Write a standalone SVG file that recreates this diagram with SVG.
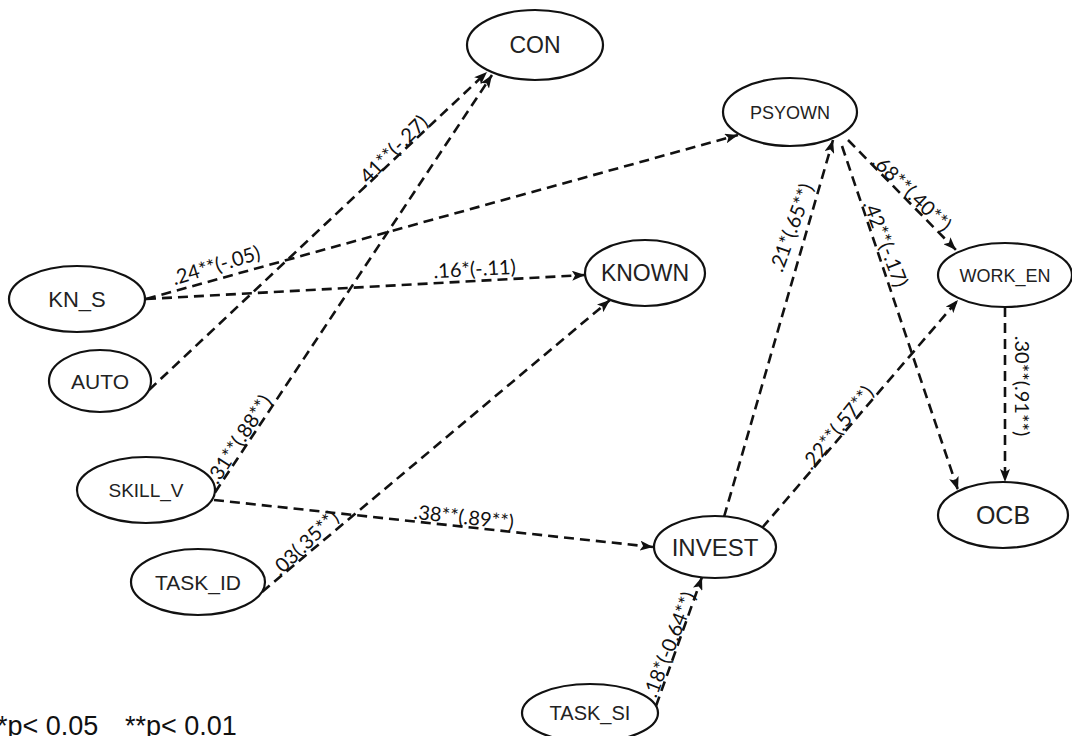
<svg xmlns="http://www.w3.org/2000/svg" width="1072" height="736" viewBox="0 0 1072 736">
<style>
.node ellipse{fill:#fff;stroke:#111;stroke-width:2.2}
.node text{font-family:"Liberation Sans",Arial,sans-serif;fill:#222;text-anchor:middle}
.edge{fill:none;stroke:#111;stroke-width:2.6;stroke-dasharray:10 6;marker-end:url(#arr)}
.lbl{font-family:Lato,"Liberation Sans",sans-serif;font-size:20px;fill:#111;text-anchor:middle}
.note{font-family:"Liberation Sans",Arial,sans-serif;font-size:27px;fill:#111}
</style>
<defs>
<marker id="arr" markerUnits="userSpaceOnUse" viewBox="0 0 14 10" markerWidth="14" markerHeight="10" refX="13" refY="5" orient="auto">
<path d="M0,0 L13,5 L0,10 L3,5 z" fill="#111"/>
</marker>
</defs>
<rect width="1072" height="736" fill="#fff"/>
<g id="connectors">
<line class="edge" x1="149" y1="390" x2="487" y2="72"/>
<line class="edge" x1="206" y1="506" x2="492" y2="75"/>
<line class="edge" x1="146" y1="299" x2="738" y2="135"/>
<line class="edge" x1="146" y1="299" x2="585" y2="275"/>
<line class="edge" x1="262" y1="592" x2="610" y2="300"/>
<line class="edge" x1="214" y1="500" x2="653" y2="547"/>
<line class="edge" x1="724" y1="517" x2="833" y2="140"/>
<line class="edge" x1="848" y1="140" x2="956" y2="250"/>
<line class="edge" x1="842" y1="146" x2="958" y2="490"/>
<line class="edge" x1="762" y1="528" x2="958" y2="300"/>
<line class="edge" x1="1005" y1="307" x2="1005" y2="482"/>
<line class="edge" x1="656" y1="706" x2="702" y2="577"/>
<text class="lbl" transform="translate(397,156) rotate(-45)">.41**(-.27)</text>
<text class="lbl" transform="translate(245,443) rotate(-57)">.31**(.88**)</text>
<text class="lbl" transform="translate(218,272) rotate(-17)">.24**(-.05)</text>
<text class="lbl" transform="translate(475,276) rotate(-3)">.16*(-.11)</text>
<text class="lbl" transform="translate(310,548) rotate(-44)">.03(.35**)</text>
<text class="lbl" transform="translate(463,524) rotate(6)">.38**(.89**)</text>
<text class="lbl" transform="translate(798,230) rotate(-70)">.21*(.65**)</text>
<text class="lbl" transform="translate(907,198) rotate(44)">.68**(.40**)</text>
<text class="lbl" transform="translate(879,246) rotate(69)">.42**(-.17)</text>
<text class="lbl" transform="translate(843,432) rotate(-51)">.22**(.57**)</text>
<text class="lbl" transform="translate(1015,386) rotate(90)">.30**(.91**)</text>
<text class="lbl" transform="translate(676,647) rotate(-69)">.18*(-0.64**)</text>
</g>
<g id="CON" class="node"><ellipse cx="535" cy="45" rx="68" ry="35"/><text x="535" y="53" font-size="23">CON</text></g>
<g id="PSYOWN" class="node"><ellipse cx="790" cy="112" rx="67" ry="34"/><text x="790" y="118.5" font-size="18">PSYOWN</text></g>
<g id="KN_S" class="node"><ellipse cx="77" cy="299" rx="68" ry="33"/><text x="77" y="307" font-size="22">KN_S</text></g>
<g id="KNOWN" class="node"><ellipse cx="645" cy="273" rx="60" ry="33"/><text x="645" y="281" font-size="23">KNOWN</text></g>
<g id="WORK_EN" class="node"><ellipse cx="1005" cy="275" rx="67" ry="32"/><text x="1005" y="281.5" font-size="18">WORK_EN</text></g>
<g id="OCB" class="node"><ellipse cx="1003" cy="515" rx="65" ry="33"/><text x="1003" y="524" font-size="25">OCB</text></g>
<g id="AUTO" class="node"><ellipse cx="100" cy="381" rx="51" ry="31"/><text x="100" y="388.5" font-size="21">AUTO</text></g>
<g id="SKILL_V" class="node"><ellipse cx="146" cy="490" rx="69" ry="33"/><text x="146" y="497" font-size="19">SKILL_V</text></g>
<g id="TASK_ID" class="node"><ellipse cx="198" cy="582" rx="67" ry="33"/><text x="198" y="589.5" font-size="21">TASK_ID</text></g>
<g id="INVEST" class="node"><ellipse cx="715" cy="547" rx="61" ry="31"/><text x="715" y="555.5" font-size="24">INVEST</text></g>
<g id="TASK_SI" class="node"><ellipse cx="590" cy="713" rx="68" ry="29"/><text x="590" y="720" font-size="20">TASK_SI</text></g>
<text class="note" x="-3" y="735">*p&lt; 0.05</text>
<text class="note" x="125" y="735">**p&lt; 0.01</text>
</svg>
